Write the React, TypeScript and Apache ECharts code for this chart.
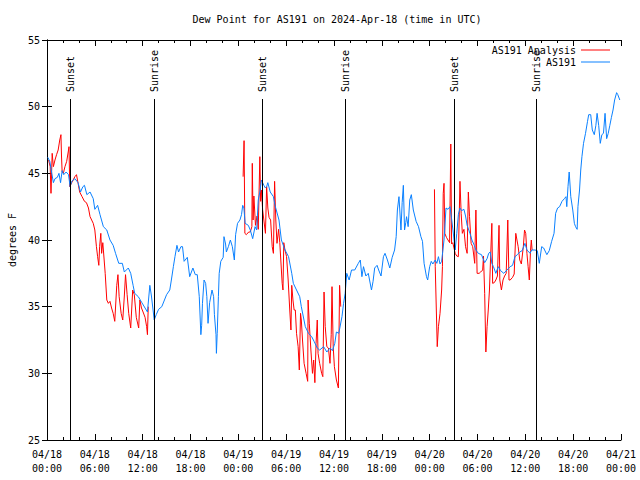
import React, { useEffect, useRef } from "react";
import * as echarts from "echarts";

// ---------- data (hours since 2024-04-18 00:00 UTC) ----------
const xTickLabels = [
  "04/18\n00:00", "04/18\n06:00", "04/18\n12:00", "04/18\n18:00",
  "04/19\n00:00", "04/19\n06:00", "04/19\n12:00", "04/19\n18:00",
  "04/20\n00:00", "04/20\n06:00", "04/20\n12:00", "04/20\n18:00",
  "04/21\n00:00",
];

const sunsetHours = [2.92, 27.01, 51.1];
const sunriseHours = [13.46, 37.42, 61.38];

const obsHours = [
  0.1, 0.35, 0.6, 0.8, 1.0, 1.3, 1.5, 1.7, 1.9, 2.1, 2.4, 2.7, 2.9, 3.1, 3.5, 3.9,
  4.2, 4.5, 4.7, 5.0, 5.4, 5.8, 6.0, 6.35, 6.65, 7.07, 7.5, 7.9, 8.3, 8.6, 9.0, 9.45,
  9.7, 10.2, 10.5, 10.8, 11.0, 11.45, 11.9, 12.3, 12.6, 12.9, 13.1, 13.45, 13.7, 14.0,
  14.4, 15.0, 15.4, 15.6, 15.85, 16.05, 16.3, 16.5, 16.8, 17.0, 17.2, 17.6, 17.9, 18.3,
  18.6, 18.85, 19.1, 19.3, 19.4, 19.5, 19.7, 19.9, 20.05, 20.2, 20.4, 20.7, 20.9, 21.0,
  21.2, 21.25, 21.35, 21.5, 21.6, 21.8, 22.1, 22.2, 22.4, 22.5, 22.75, 23.0, 23.25, 23.5,
  23.66, 23.9, 24.2, 24.4, 24.55, 24.7, 24.85, 25.25, 25.5, 25.8, 26.1, 26.3, 26.5, 26.7,
  26.9, 27.2, 27.4, 27.55, 27.7, 28.0, 28.4, 28.6, 29.1, 29.4, 29.85, 30.3, 30.7, 30.9,
  31.3, 31.7, 31.9, 32.4, 32.8, 33.2, 33.5, 33.9, 34.2, 34.7, 35.1, 35.5, 35.8, 36.1,
  36.3, 36.6, 37.0, 37.2, 37.4, 37.6, 37.9, 38.2, 38.6, 39.05, 39.3, 39.5, 39.7, 40.0,
  40.3, 40.7, 40.9, 41.1, 41.4, 41.6, 41.9, 42.2, 42.4, 42.7, 43.0, 43.3, 43.6, 43.8,
  43.95, 44.15, 44.4, 44.55, 44.7, 44.85, 45.0, 45.1, 45.3, 45.5, 45.7, 45.95, 46.3, 46.6,
  46.9, 47.1, 47.3, 47.6, 47.75, 48.0, 48.2, 48.4, 48.7, 48.9, 49.1, 49.3, 49.5, 49.8,
  50.05, 50.3, 50.55, 50.75, 50.95, 51.2, 51.4, 51.6, 51.8, 52.0, 52.3, 52.5, 52.7, 53.05,
  53.3, 53.6, 53.8, 54.1, 54.5, 54.9, 55.2, 55.4, 55.6, 55.8, 56.0, 56.3, 56.6, 56.9,
  57.3, 57.7, 58.1, 58.4, 58.7, 59.0, 59.3, 59.6, 59.95, 60.2, 60.6, 60.8, 61.2, 61.5,
  61.75, 62.05, 62.3, 62.7, 63.0, 63.3, 63.6, 63.8, 64.05, 64.3, 64.6, 64.9, 65.1, 65.2,
  65.35, 65.5, 65.6, 65.7, 65.95, 66.15, 66.3, 66.5, 66.6, 66.8, 66.95, 67.1, 67.3, 67.55,
  67.8, 67.95, 68.2, 68.4, 68.65, 68.85, 69.0, 69.2, 69.4, 69.6, 69.8, 70.0, 70.2, 70.4,
  70.6, 70.8, 71.0, 71.2, 71.45, 71.6, 71.85,
];
const obsValues = [
  46.2, 45.9, 45.0, 44.3, 44.6, 44.7, 45.0, 44.3, 45.2, 44.9, 45.1, 44.9, 44.0, 44.4, 44.6, 44.3,
  43.6, 44.0, 44.1, 43.4, 43.6, 43.1, 42.3, 42.6, 41.9, 41.0, 40.75, 40.0, 39.6, 39.0, 38.25, 38.25,
  37.6, 37.9, 37.5, 36.6, 36.0, 35.75, 35.3, 34.9, 34.6, 36.6, 35.8, 34.0, 34.4, 34.8,
  35.0, 35.9, 36.25, 37.0, 38.0, 38.75, 39.6, 39.1, 39.5, 39.5, 38.4, 38.7, 37.25, 37.9,
  37.4, 37.4, 35.75, 32.9, 33.6, 35.25, 37.0, 36.75, 35.75, 33.75, 35.3, 36.25, 35.75, 34.4,
  32.9, 31.5, 33.0, 35.75, 37.5, 38.4, 38.7, 40.25, 39.7, 39.1, 39.5, 40.0, 39.5, 38.5,
  40.4, 41.25, 41.5, 41.9, 42.6, 42.4, 41.25, 41.1, 40.75, 40.1, 41.0, 40.75, 43.0, 43.6,
  44.5, 44.1, 43.9, 44.0, 44.3, 43.6, 43.25, 42.6, 41.5, 40.0, 39.25, 38.75, 37.5, 36.75,
  36.25, 35.75, 35.0, 33.5, 33.0, 32.75, 32.4, 31.9, 31.75, 32.0, 31.6, 31.9, 31.7, 32.25,
  33.1, 33.0, 34.25, 35.25, 36.0, 37.5, 37.0, 37.75, 37.75, 38.25, 38.5, 37.25, 38.0, 37.3,
  37.5, 36.25, 36.9, 37.9, 38.1, 37.75, 37.3, 38.75, 39.0, 38.5, 37.9, 38.7, 39.25, 40.25,
  42.25, 43.25, 40.75, 42.8, 44.1, 40.75, 41.3, 41.75, 41.0, 43.0, 43.4, 42.25, 41.4, 41.0,
  40.25, 39.9, 38.25, 37.25, 37.0, 38.0, 38.4, 38.2, 38.5, 38.25, 38.75, 38.2, 38.4, 40.0,
  42.4, 42.3, 42.5, 41.6, 40.6, 39.25, 40.5, 41.9, 42.4, 42.2, 42.3, 41.8, 41.1, 40.5,
  40.0, 39.6, 39.25, 39.0, 38.9, 38.3, 38.6, 39.0, 39.1, 38.25, 38.0, 37.5, 38.0, 37.7,
  37.5, 37.75, 38.0, 38.1, 38.75, 38.9, 39.1, 39.2, 39.75, 39.25, 39.0, 39.25, 39.25, 39.2,
  38.25, 39.5, 39.4, 38.9, 39.2, 39.9, 40.5, 42.0, 42.4, 42.5, 42.9, 43.1, 43.25, 42.5,
  44.0, 45.1, 44.2, 43.25, 42.25, 41.25, 41.0, 40.8, 42.5, 43.75, 45.25, 46.25, 47.25, 48.0,
  48.9, 49.4, 49.4, 48.25, 47.9, 48.6, 49.5, 48.6, 47.25, 47.9, 48.0, 49.5, 47.6, 48.0,
  48.6, 49.2, 49.75, 50.5, 51.05, 50.9, 50.5,
];

// analysis series: null marks a gap
const anaHours = [
  0.2, 0.4, 0.5, 0.65, 0.8, 1.0, 1.2, 1.4, 1.6, 1.75, 1.82, 1.9, 2.05, 2.25, 2.47, 2.7,
  2.76, 2.85, 3.1, 3.5, 3.7, 3.9, 4.1, 4.4, 4.7, 4.95, 5.2, 5.4, 5.6, 5.8, 6.0, 6.2,
  6.35, 6.5, 6.6, 6.75, 6.85, 7.0, 7.3, 7.5, 7.7, 7.9, 8.1, 8.3, 8.5, 8.75, 8.9, 9.05,
  9.3, 9.5, 9.7, 9.85, 10.05, 10.25, 10.5, 10.75, 10.95, 11.2, 11.5, 11.65, 11.85, 12.05,
  12.3, 12.5, 12.6, 12.7,
  18.0,
  24.6, 24.72, 24.82, 25.0, 25.3, 25.5, 25.7, 25.75, 25.85, 25.95, 26.15, 26.35, 26.5,
  26.7, 26.8, 26.9, 27.05, 27.2, 27.4, 27.55, 27.7, 27.85, 28.05, 28.25, 28.4, 28.55,
  28.7, 28.85, 29.05, 29.2, 29.4, 29.5, 29.6, 29.7, 29.85, 30.05, 30.25, 30.45, 30.6,
  30.7, 30.85, 31.0, 31.15, 31.3, 31.5, 31.65, 31.8, 31.9, 32.05, 32.25, 32.5, 32.7,
  32.75, 32.9, 33.1, 33.3, 33.45, 33.6, 33.75, 33.9, 34.0, 34.2, 34.45, 34.6, 34.75,
  34.9, 35.1, 35.3, 35.5, 35.65, 35.75, 35.9, 36.05, 36.3, 36.55, 36.7, 36.85,
  42.0,
  48.6, 48.7, 48.95, 49.1, 49.3, 49.5, 49.6, 49.7, 49.8, 49.9, 50.1, 50.3, 50.5, 50.65,
  50.75, 50.9, 51.2, 51.4, 51.6, 51.8, 51.95, 52.1, 52.3, 52.5, 52.7, 52.85, 53.0, 53.2,
  53.4, 53.65, 53.8, 53.95, 54.2, 54.4, 54.65, 54.75, 54.9, 55.05, 55.2, 55.35, 55.5,
  55.65, 55.8, 55.9, 56.1, 56.3, 56.5, 56.7, 56.8, 57.0, 57.2, 57.4, 57.6, 57.8, 57.95,
  58.1, 58.4, 58.6, 58.8, 58.95, 59.1, 59.3, 59.5, 59.75, 59.9, 60.05, 60.2, 60.35, 60.5,
  60.65, 60.75, 60.85,
];
const anaValues = [
  46.0, 45.5, 43.5, 46.5, 45.5, 46.0, 46.4, 46.75, 47.5, 47.9, 46.3, 45.1, 45.0, 45.5, 45.9, 46.75,
  47.0, 44.0, 44.3, 44.75, 44.9, 44.25, 43.6, 43.25, 42.9, 42.8, 42.4, 41.75, 41.5, 41.25, 40.75, 39.5,
  38.75, 38.1, 39.5, 40.5, 39.0, 39.8, 37.5, 35.5, 35.25, 35.4, 34.9, 34.5, 33.9, 36.6, 37.4, 35.75,
  34.5, 34.0, 35.8, 37.4, 35.9, 34.5, 33.4, 36.25, 35.9, 34.2, 33.4, 35.5, 34.9, 34.6,
  34.2, 33.5, 32.9, 35.0,
  null,
  44.75, 47.45, 40.5, 40.4, 40.6, 40.6, 41.0, 45.75, 41.5, 43.3, 41.1, 41.8, 40.8,
  46.25, 42.9, 43.75, 42.25, 41.5, 40.5, 44.0, 42.4, 41.7, 41.5, 39.5, 39.0, 44.4,
  41.5, 39.75, 40.8, 39.8, 37.75, 36.75, 36.25, 39.8, 39.25, 38.75, 37.0, 34.75, 33.25,
  36.6, 35.5, 34.75, 34.75, 33.0, 32.0, 30.25, 34.5, 34.0, 32.5, 30.75, 30.0, 29.4,
  35.5, 33.75, 31.75, 30.0, 31.0, 29.3, 32.25, 34.0, 31.5, 30.75, 30.0, 29.75, 36.1,
  33.5, 32.0, 31.9, 30.75, 32.9, 36.5, 32.0, 30.5, 29.5, 28.9, 36.6, 35.0,
  null,
  43.8, 38.0, 32.0, 33.5, 34.5, 36.25, 38.0, 43.5, 44.25, 40.5, 40.2, 40.0, 39.8, 47.2,
  39.7, 39.8, 39.0, 38.8, 38.75, 44.4, 42.0, 40.5, 40.8, 39.5, 39.0, 43.6, 41.75, 39.75,
  39.5, 38.25, 42.25, 37.5, 37.5, 37.6, 37.75, 38.8, 36.0, 31.6, 33.5, 34.75, 36.25,
  38.8, 41.25, 36.75, 36.8, 37.0, 37.3, 41.1, 37.0, 36.25, 37.0, 37.3, 37.5, 41.5, 37.0,
  37.0, 37.2, 37.45, 40.5, 40.0, 39.5, 38.5, 38.2, 39.5, 40.75, 40.5, 39.0, 38.0, 37.0,
  39.2, 40.0, 39.25,
];

const FONT = "DejaVu Sans Mono";
const Y_MIN = 25;
const Y_MAX = 55;
const EVENT_LINE_TOP = 50.575;

export default function App() {
  const ref = useRef<HTMLDivElement>(null);

  useEffect(() => {
    if (!ref.current) return;
    const chart = echarts.init(ref.current, undefined, { renderer: "svg" });

    const obsData = obsHours.map((h, i) => [h, obsValues[i]]);
    const anaData = anaHours.map((h, i) => [h, anaValues[i]]);

    const eventLines: any[] = [];
    const addEvent = (h: number, name: string) => {
      eventLines.push([
        { coord: [h, Y_MIN], lineStyle: { color: "#000", width: 1, type: "solid" }, label: { show: false } },
        { coord: [h, EVENT_LINE_TOP] },
      ]);
      eventLines.push([
        {
          coord: [h, EVENT_LINE_TOP],
          lineStyle: { color: "rgba(0,0,0,0)", width: 0 },
          label: {
            show: true,
            position: "insideStart",
            distance: 7,
            formatter: name,
            color: "#000",
            fontFamily: FONT,
            fontSize: 10,
          },
        },
        { coord: [h, Y_MAX] },
      ]);
    };
    sunsetHours.forEach((h) => addEvent(h, "Sunset"));
    sunriseHours.forEach((h) => addEvent(h, "Sunrise"));

    const axisLine = { show: true, lineStyle: { color: "#000", width: 1 } };
    const xCommon = {
      type: "value" as const,
      min: 0,
      max: 72,
      interval: 6,
      axisLine,
      axisTick: { show: true, inside: true, length: 6, lineStyle: { color: "#000" } },
      minorTick: { show: true, splitNumber: 3, length: 3, lineStyle: { color: "#000" } },
      splitLine: { show: false },
      minorSplitLine: { show: false },
    };
    const yCommon = {
      type: "value" as const,
      min: Y_MIN,
      max: Y_MAX,
      interval: 5,
      axisLine,
      axisTick: { show: true, inside: true, length: 5, lineStyle: { color: "#000" } },
      splitLine: { show: false },
    };

    chart.setOption({
      animation: false,
      backgroundColor: "#fff",
      title: {
        text: "Dew Point for AS191 on 2024-Apr-18 (time in UTC)",
        left: 332,
        textAlign: "center",
        top: 9,
        textStyle: { fontFamily: FONT, fontSize: 10, fontWeight: "normal", color: "#000" },
      },
      legend: {
        data: [
          { name: "AS191 Analysis", icon: "rect" },
          { name: "AS191", icon: "rect" },
        ],
        orient: "vertical",
        align: "right",
        right: 30,
        top: 45,
        itemWidth: 29,
        itemHeight: 1,
        itemGap: 2,
        padding: 0,
        textStyle: { fontFamily: FONT, fontSize: 10, color: "#000" },
      },
      grid: { left: 47, right: 19, top: 40, bottom: 40, containLabel: false, outerBoundsMode: "none" },
      xAxis: [
        {
          ...xCommon,
          position: "bottom",
          axisLabel: {
            show: true,
            margin: 7,
            lineHeight: 14,
            fontFamily: FONT,
            fontSize: 10,
            color: "#000",
            formatter: (v: number) => xTickLabels[Math.round(v / 6)] ?? "",
          },
        },
        { ...xCommon, position: "top", axisLabel: { show: false } },
      ],
      yAxis: [
        {
          ...yCommon,
          position: "left",
          name: "degrees F",
          nameLocation: "middle",
          nameGap: 30,
          nameTextStyle: { fontFamily: FONT, fontSize: 10, color: "#000" },
          axisLabel: { show: true, margin: 7, fontFamily: FONT, fontSize: 10, color: "#000" },
        },
        { ...yCommon, position: "right", axisLabel: { show: false } },
      ],
      series: [
        {
          name: "AS191 Analysis",
          type: "line",
          data: anaData,
          showSymbol: false,
          symbol: "none",
          connectNulls: false,
          lineStyle: { color: "#ff0000", width: 1 },
          itemStyle: { color: "#ff0000" },
          z: 2,
        },
        {
          name: "AS191",
          type: "line",
          data: obsData,
          showSymbol: false,
          symbol: "none",
          lineStyle: { color: "#0a80ff", width: 1 },
          itemStyle: { color: "#0a80ff" },
          z: 3,
          markLine: {
            silent: true,
            symbol: ["none", "none"],
            animation: false,
            data: eventLines,
          },
        },
      ],
    });

    return () => chart.dispose();
  }, []);

  return (
    <div
      ref={ref}
      style={{ position: "fixed", left: 0, top: 0, width: 640, height: 480, background: "#fff" }}
    />
  );
}
